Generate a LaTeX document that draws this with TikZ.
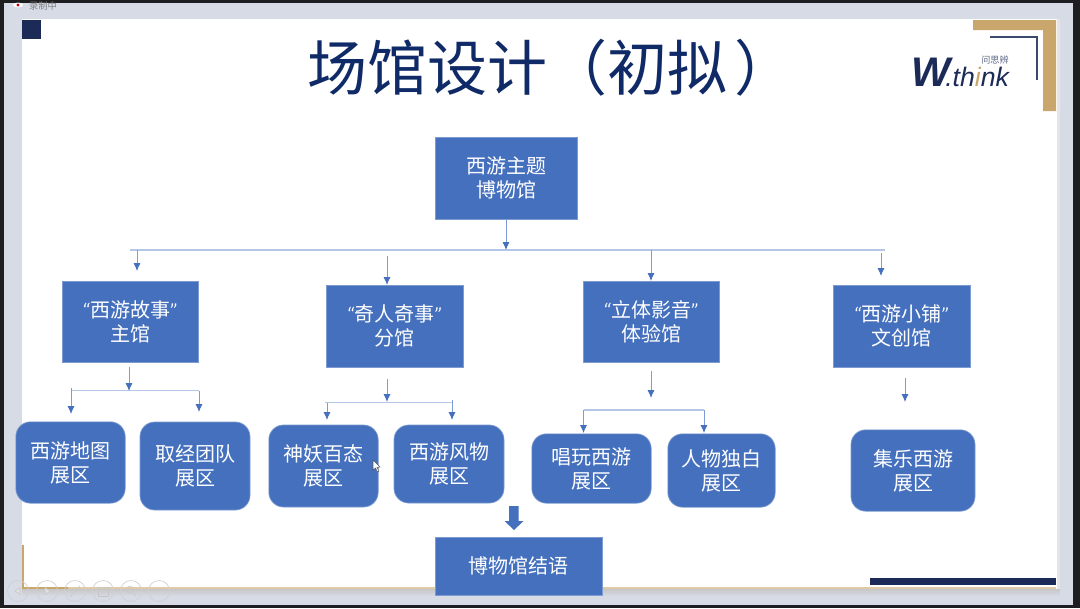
\documentclass[tikz,border=0pt]{standalone}
\usepackage{fontspec}
\usetikzlibrary{arrows.meta}
\setmainfont{Noto Sans CJK SC}
\newfontfamily\logofont{Liberation Sans}
\newfontfamily\quotefont{Carlito}
\newcommand{\qleft}{{\quotefont\itshape “}}
\newcommand{\qright}{{\quotefont\itshape ”}}
\definecolor{boxblue}{HTML}{4570BE}
\definecolor{linkblue}{HTML}{7F9BD5}
\definecolor{buspale}{HTML}{B4C7E7}
\definecolor{navy}{HTML}{1B2A56}
\definecolor{titlenavy}{HTML}{0F2A66}
\definecolor{gold}{HTML}{C9A76C}
\definecolor{windowbg}{HTML}{D6DBE6}
\definecolor{darkframe}{HTML}{1E1E20}
\tikzset{
 x=0.75pt,y=-0.75pt,
 hall/.style={draw=boxblue!70!white,line width=0.5pt,fill=boxblue,text=white,inner sep=0pt,align=center,font=\fontsize{15}{18}\selectfont,execute at begin node={\vspace*{3pt}}},
 zone/.style={hall,rounded corners=11pt},
 bus/.style={draw=buspale,line width=0.9pt},
 linkarrow/.style={draw=linkblue,line width=0.7pt,-{Latex[length=6pt,width=5.4pt,color=boxblue]}},
 tool/.style={draw=black!18,line width=0.5pt,fill=none},
 toolmark/.style={draw=black!22,fill=black!12,line width=0.4pt},
}
\begin{document}
\begin{tikzpicture}
\useasboundingbox (0,0) rectangle (1080,608);
% window and slide
\fill[darkframe] (0,0) rectangle (1080,608);
\fill[windowbg] (4,3) rectangle (1073,605);
\shade[top color=black!22,bottom color=windowbg] (22,589) rectangle (1060,596);
\fill[black!10] (1057,19) rectangle (1060,589);
\fill[white] (22,19) rectangle (1057,589);
% slide decoration
\fill[navy] (22,20) rectangle (41,39);
\fill[gold] (973,20) -- (1056,20) -- (1056,111) -- (1043,111) -- (1043,30) -- (973,30) -- cycle;
\draw[navy!85!white,line width=1.5pt] (990,36.5) -- (1036.5,36.5) -- (1036.5,80);
\draw[gold!60!white,line width=0.8pt] (68,588) -- (1056,588);
\draw[gold,line width=1.1pt] (23,545) -- (23,588) -- (68,588);
\fill[navy] (870,578) rectangle (1056,585);
% recording tag
\fill[white] (18,5) ellipse (5 and 2.4);
\fill[red!75!black] (18,5) circle (1.6);
\node[font=\fontsize{7}{8}\selectfont,text=black!50,inner sep=0pt] (rec) at (43,5.5) {录制中};
% title and logo
\node[font=\fontsize{45}{52}\selectfont,text=titlenavy,inner sep=0pt] (title) at (551,68) {场馆设计（初拟\kern6pt）};
\node[font=\logofont\bfseries\itshape\fontsize{31}{34}\selectfont,text=navy,inner sep=0pt,anchor=base west] (logoW) at (911,86) {W};
\node[font=\logofont\itshape\fontsize{20}{24}\selectfont,text=navy,inner sep=0pt,anchor=base west] (logoT) at (945,86) {.th\textcolor{gold}{i}nk};
\node[font=\fontsize{6.8}{8}\selectfont,text=navy!70!white,inner sep=0pt] (logoC) at (995,60) {问思辨};
% boxes
\node[hall,minimum width=106.5pt,minimum height=61.5pt] (root) at (506,178) {西游主题\\博物馆};
\node[hall,minimum width=102pt,minimum height=61pt] (a) at (130,321.5) {\qleft 西游故事\qright\\主馆};
\node[hall,minimum width=102.5pt,minimum height=61.5pt] (b) at (394.5,326) {\qleft 奇人奇事\qright\\分馆};
\node[hall,minimum width=102pt,minimum height=61pt] (c) at (651,321.5) {\qleft 立体影音\qright\\体验馆};
\node[hall,minimum width=102.5pt,minimum height=61.5pt] (d) at (901.5,326) {\qleft 西游小铺\qright\\文创馆};
\node[zone,minimum width=82pt,minimum height=61pt] (a1) at (70.5,462.5) {西游地图\\展区};
\node[zone,minimum width=82.5pt,minimum height=66pt] (a2) at (195,466) {取经团队\\展区};
\node[zone,minimum width=82pt,minimum height=61.5pt] (b1) at (323.5,466) {神妖百态\\展区};
\node[zone,minimum width=82.5pt,minimum height=58.5pt] (b2) at (449,464) {西游风物\\展区};
\node[zone,minimum width=89.5pt,minimum height=52pt] (c1) at (591.5,468.5) {唱玩西游\\展区};
\node[zone,minimum width=80.5pt,minimum height=55pt] (c2) at (721.5,470.5) {人物独白\\展区};
\node[zone,minimum width=93pt,minimum height=61pt] (d1) at (913,470.5) {集乐西游\\展区};
\node[hall,minimum width=125pt,minimum height=43.5pt] (end) at (518.5,566) {博物馆结语};
% top tree
\coordinate (busL) at (130,250);
\coordinate (busR) at (885,250);
\draw[bus] (busL) -- (busR);
\draw[linkarrow] (root.south) -- (506,250);
\draw[linkarrow] (137,250) -- (137,271);
\draw[linkarrow] (387,256) -- (387,285);
\draw[linkarrow] (651,250) -- (651,281);
\draw[linkarrow] (881,253) -- (881,276);
% A
\draw[bus] (71,390.5) -- (199,390.5);
\draw[linkarrow] (129,367) -- (129,391);
\draw[linkarrow] (71,388) -- (71,414);
\draw[linkarrow] (199,390.5) -- (199,412);
% B
\draw[bus] (325,402.5) -- (452,402.5);
\draw[linkarrow] (387,379) -- (387,402);
\draw[linkarrow] (327,402.5) -- (327,420);
\draw[linkarrow] (452,400) -- (452,420);
% C
\draw[bus] (583.5,410) -- (704,410);
\draw[linkarrow] (651,371) -- (651,398);
\draw[linkarrow] (583.5,410) -- (583.5,433);
\draw[linkarrow] (704,410) -- (704,433);
% D
\draw[linkarrow] (905,378) -- (905,402);
% block arrow
\fill[boxblue] (509,506) -- (518.5,506) -- (518.5,521) -- (523.5,521) -- (514,530) -- (504.5,521) -- (509,521) -- cycle;
% mouse pointer
\draw[black!65,fill=white,line width=0.4pt] (373,460) -- (373,470) -- (375.5,468) -- (377.5,472) -- (379,471) -- (377,467.5) -- (380,467) -- cycle;
% player tools
\foreach \cx in {18,47,75,103,131,159}{\draw[tool] (\cx,591) circle (10.5);}
\fill[toolmark] (15,591) -- (20,587.5) -- (20,594.5) -- cycle;
\fill[toolmark] (50,591) -- (45,587.5) -- (45,594.5) -- cycle;
\draw[toolmark] (70,597) -- (80,586);
\draw[toolmark,fill=none] (98,587) rectangle (108,596);
\draw[toolmark,fill=none] (130,589.5) circle (3.5) (132.5,592.5) -- (136,596.5);
\foreach \dx in {155,159,163}{\fill[black!22] (\dx,591) circle (0.7);}
\end{tikzpicture}
\end{document}
